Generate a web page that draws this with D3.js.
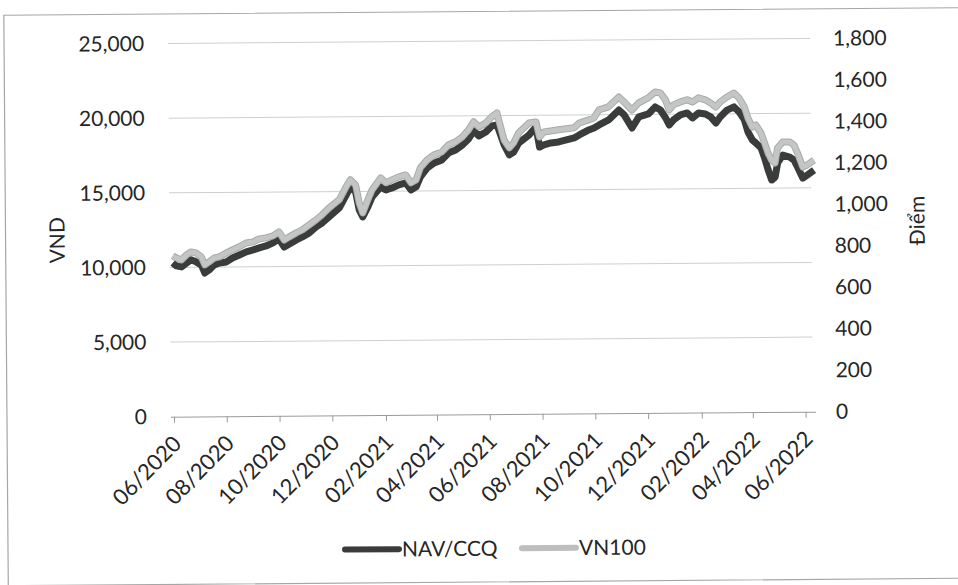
<!DOCTYPE html>
<html>
<head>
<meta charset="utf-8">
<script src="https://cdn.jsdelivr.net/npm/d3@7"></script>
<style>
  body { margin: 0; background: #fff; }
  text { font-family: Lato, "Open Sans", sans-serif; fill: #262626; }
</style>
</head>
<body>
<div id="chart"></div>
<script>
var dates = ["2020-06-01","2020-06-05","2020-06-11","2020-06-17","2020-06-22","2020-06-28","2020-07-04","2020-07-08","2020-07-13","2020-07-19","2020-07-25","2020-08-02","2020-08-09","2020-08-17","2020-08-25","2020-09-02","2020-09-09","2020-09-17","2020-09-25","2020-10-02","2020-10-08","2020-10-14","2020-10-22","2020-10-29","2020-11-06","2020-11-14","2020-11-21","2020-11-29","2020-12-11","2020-12-19","2020-12-24","2020-12-30","2021-01-03","2021-01-07","2021-01-13","2021-01-18","2021-01-24","2021-01-28","2021-02-03","2021-02-10","2021-02-18","2021-02-26","2021-03-04","2021-03-10","2021-03-15","2021-03-23","2021-03-31","2021-04-09","2021-04-17","2021-04-25","2021-05-03","2021-05-10","2021-05-16","2021-05-22","2021-05-30","2021-06-06","2021-06-12","2021-06-14","2021-06-20","2021-06-26","2021-07-01","2021-07-07","2021-07-19","2021-07-27","2021-07-31","2021-08-05","2021-08-13","2021-08-22","2021-09-09","2021-09-15","2021-09-26","2021-10-02","2021-10-08","2021-10-19","2021-10-31","2021-11-06","2021-11-15","2021-11-23","2021-12-04","2021-12-12","2021-12-18","2021-12-24","2021-12-28","2022-01-02","2022-01-10","2022-01-18","2022-01-24","2022-01-31","2022-02-08","2022-02-14","2022-02-20","2022-02-25","2022-03-05","2022-03-13","2022-03-19","2022-03-25","2022-03-29","2022-04-03","2022-04-07","2022-04-13","2022-04-17","2022-04-21","2022-04-25","2022-04-29","2022-05-02","2022-05-08","2022-05-16","2022-05-21","2022-05-25","2022-05-31","2022-06-05","2022-06-13"];

// NAV/CCQ, VND (left axis)
var nav = [10300,10100,10030,10290,10500,10360,10150,9610,9810,10150,10270,10340,10600,10800,11000,11130,11260,11390,11590,11860,11310,11510,11780,11980,12240,12640,12900,13300,13900,14760,15300,14960,13750,13280,13950,14620,15010,15280,15080,15210,15410,15540,15070,15270,15930,16530,16860,17060,17530,17720,18060,18450,18990,18650,18910,19310,19380,19040,18030,17360,17550,18160,18690,19220,17870,18010,18140,18200,18460,18660,18990,19120,19320,19650,20310,19980,19100,19840,20030,20500,20290,19750,19280,19620,19950,20080,19740,20070,20000,19800,19390,19790,20250,20460,20110,19580,18770,18230,18030,17690,17020,16210,15540,15740,16680,17200,17070,16860,16390,15650,15850,16180];

// VN100, points (right axis)
var vn100 = [776,766,756,780,794,789,770,731,745,764,769,788,802,817,835,840,854,859,868,887,848,863,882,896,920,944,968,1001,1040,1102,1136,1111,1024,976,1038,1086,1120,1144,1120,1134,1148,1157,1119,1133,1191,1229,1253,1267,1301,1315,1339,1372,1411,1386,1405,1434,1453,1419,1322,1284,1307,1356,1403,1408,1335,1359,1364,1369,1378,1401,1416,1425,1464,1478,1525,1501,1462,1496,1520,1548,1543,1509,1461,1485,1499,1509,1498,1518,1508,1493,1473,1497,1521,1540,1516,1472,1419,1375,1385,1346,1298,1249,1215,1201,1273,1302,1302,1287,1248,1180,1190,1213];

var xTickLabels = ["06/2020","08/2020","10/2020","12/2020","02/2021","04/2021","06/2021","08/2021","10/2021","12/2021","02/2022","04/2022","06/2022"];
var leftTicks = [0, 5000, 10000, 15000, 20000, 25000];
var rightTicks = [0, 200, 400, 600, 800, 1000, 1200, 1400, 1600, 1800];

var width = 958, height = 585;
var parse = d3.timeParse("%Y-%m-%d");
var parseTick = d3.timeParse("%m/%Y");

var svg = d3.select("#chart").append("svg")
    .attr("width", width)
    .attr("height", height);

// the scan is slightly tilted
var root = svg.append("g").attr("transform", "rotate(-0.45,479,292)");

root.append("rect")
    .attr("x", 6).attr("y", 11.5)
    .attr("width", 970).attr("height", 570.5)
    .attr("fill", "none")
    .attr("stroke", "#a6a6a6")
    .attr("stroke-width", 1.2);

var x = d3.scaleTime()
    .domain([parse(dates[0]), parse(dates[dates.length - 1])])
    .range([173, 815]);
var yL = d3.scaleLinear().domain([0, 25000]).range([414.3, 41.1]);
var yR = d3.scaleLinear().domain([0, 1800]).range([414.3, 41.1]);

// gridlines
root.append("g")
    .selectAll("line")
    .data(leftTicks.slice(1))
    .enter()
    .append("line")
    .attr("x1", 170).attr("x2", 812)
    .attr("y1", function(d) { return yL(d); })
    .attr("y2", function(d) { return yL(d); })
    .attr("stroke", "#cfcfcf")
    .attr("stroke-width", 1);

// x axis
var xAxis = root.append("g")
    .attr("transform", "translate(0," + yL(0) + ")")
    .call(d3.axisBottom(x)
        .tickValues(xTickLabels.map(function(d) { return parseTick(d); }))
        .tickFormat(d3.timeFormat("%m/%Y"))
        .tickSize(6)
        .tickSizeOuter(0));
xAxis.select(".domain").attr("stroke", "#9a9a9a").attr("d", "M170,0.5H815");
xAxis.selectAll(".tick line").attr("stroke", "#9a9a9a");
xAxis.selectAll(".tick text")
    .attr("font-size", "22px")
    .attr("fill", "#262626")
    .attr("text-anchor", "end")
    .attr("dy", "0.35em")
    .attr("transform", "translate(2.5,23) rotate(-45)")
    .attr("y", 0)
    .attr("x", 0);

// left axis
var leftAxis = root.append("g")
    .attr("transform", "translate(146,0)")
    .call(d3.axisLeft(yL).tickValues(leftTicks).tickFormat(d3.format(",")).tickSize(0));
leftAxis.select(".domain").remove();
leftAxis.selectAll("text").attr("font-size", "21px").attr("fill", "#262626").attr("x", 0);

// right axis
var rightAxis = root.append("g")
    .attr("transform", "translate(835,0)")
    .call(d3.axisRight(yR).tickValues(rightTicks).tickFormat(d3.format(",")).tickSize(0));
rightAxis.select(".domain").remove();
rightAxis.selectAll("text").attr("font-size", "21px").attr("fill", "#262626").attr("x", 0);

// axis titles
root.append("text")
    .attr("transform", "translate(65,237) rotate(-90)")
    .attr("text-anchor", "middle")
    .attr("font-size", "21px")
    .text("VND");
root.append("text")
    .attr("transform", "translate(925,224) rotate(-90)")
    .attr("text-anchor", "middle")
    .attr("font-size", "21px")
    .text("Điểm");

// lines
var navLine = d3.line()
    .x(function(d, i) { return x(parse(dates[i])); })
    .y(function(d) { return yL(d); });
var vnLine = d3.line()
    .x(function(d, i) { return x(parse(dates[i])); })
    .y(function(d) { return yR(d); });

root.append("path")
    .datum(nav)
    .attr("d", navLine)
    .attr("fill", "none")
    .attr("stroke", "#3a3c3b")
    .attr("stroke-width", 7)
    .attr("stroke-linejoin", "round");

root.append("path")
    .datum(vn100)
    .attr("d", vnLine)
    .attr("fill", "none")
    .attr("stroke", "#a9aaaa")
    .attr("stroke-width", 7)
    .attr("stroke-linejoin", "round");
root.append("path")
    .datum(vn100)
    .attr("d", vnLine)
    .attr("fill", "none")
    .attr("stroke", "#c4c5c5")
    .attr("stroke-width", 5)
    .attr("stroke-linejoin", "round");

// legend
var legend = [
    { name: "NAV/CCQ", x: 343, color: "#3a3c3b" },
    { name: "VN100", x: 520, color: "#bdbebe" }
];
var lg = root.append("g").attr("transform", "translate(0,548.5)");
lg.selectAll("line")
    .data(legend)
    .enter()
    .append("line")
    .attr("x1", function(d) { return d.x; })
    .attr("x2", function(d) { return d.x + 54; })
    .attr("y1", 0).attr("y2", 0)
    .attr("stroke", function(d) { return d.color; })
    .attr("stroke-width", 6)
    .attr("stroke-linecap", "round");
lg.selectAll("text")
    .data(legend)
    .enter()
    .append("text")
    .attr("x", function(d) { return d.x + 57; })
    .attr("y", 0)
    .attr("dy", "0.35em")
    .attr("font-size", "21px")
    .text(function(d) { return d.name; });
</script>
</body>
</html>
